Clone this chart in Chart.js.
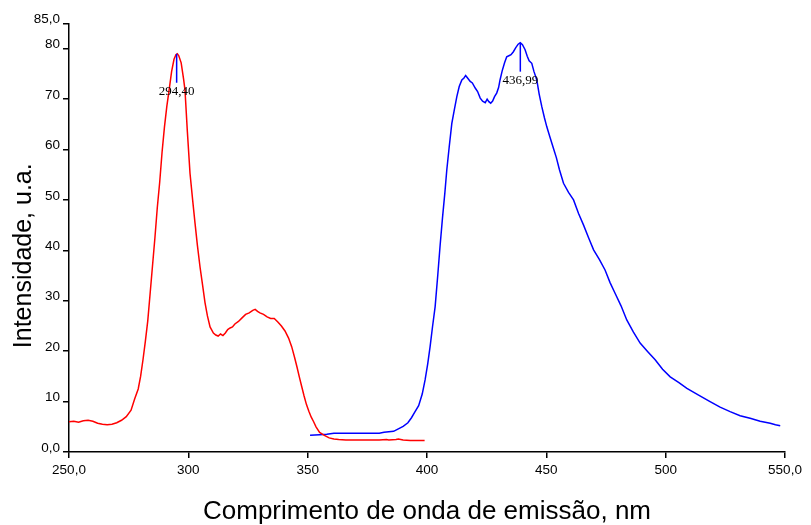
<!DOCTYPE html>
<html>
<head>
<meta charset="utf-8">
<script src="https://cdn.jsdelivr.net/npm/chart.js@4/dist/chart.umd.min.js"></script>
<style>
  body { margin: 0; background: #fff; }
  #wrap { width: 811px; height: 525px; }
</style>
</head>
<body>
<div id="wrap"><canvas id="grafico" width="811" height="525"></canvas></div>
<script>
// excitação (vermelho)
const exX = [250, 252, 254, 256, 258, 260, 262, 264, 266, 268, 270, 272, 274, 276, 277.5, 279, 280, 281, 282,
  283, 284, 285, 286, 287, 288, 289, 290, 291, 292, 293, 294, 294.8, 295.4, 296, 297, 298, 298.6, 299.6, 300.7,
  301.8, 302.8, 303.8, 304.9, 306, 307, 308, 309.1, 310.5, 311.5, 312.5, 313.5, 314.5, 315.5, 316.5, 317.5, 318.5, 319.5,
  321, 322.5, 324, 325.5, 327, 328, 329, 330, 331.5, 333, 334.5, 336, 337.5, 339, 340.5, 342, 343.3, 344.5, 345.5,
  346.5, 347.5, 348.5, 349.5, 350.5, 351.5, 352.5, 353.5, 355, 357, 359, 361, 363, 366, 370, 375, 380, 383, 384,
  387, 388, 390, 393, 396, 399];
const exY = [6.0, 6.1, 5.9, 6.2, 6.3, 6.1, 5.7, 5.5, 5.4, 5.5, 5.8, 6.3, 7.0, 8.3, 10.5, 12.5, 15, 18.3, 22,
  26, 31.5, 37, 42.5, 48.5, 53.5, 59.5, 64.5, 68.6, 72, 75.5, 77.9, 78.8, 79.0, 78.6, 77.2, 74, 71.8, 63.5, 55.3,
  50, 45.4, 41, 36.7, 33, 29.6, 27, 24.8, 23.6, 23.2, 23.0, 23.4, 23.1, 23.6, 24.3, 24.6, 24.8, 25.4,
  25.9, 26.6, 27.3, 27.6, 28.1, 28.3, 27.9, 27.6, 27.3, 26.8, 26.5, 26.5, 25.8, 25.0, 24.0, 22.6, 20.9, 18.8, 16.9,
  14.9, 13.0, 11.1, 9.4, 8.1, 6.9, 6.0, 5.0, 3.9, 3.3, 2.8, 2.6, 2.5, 2.4, 2.4, 2.4, 2.4, 2.5, 2.4,
  2.5, 2.6, 2.4, 2.3, 2.3, 2.3];

// emissão (azul)
const emX = [351, 355, 358, 361, 365, 370, 375, 380, 382, 384, 386, 388, 390, 392, 393.5, 395, 396.5, 398, 399.2,
  400.3, 401.3, 402.3, 403.4, 404.5, 405.5, 406.5, 407.5, 408.3, 409.3, 410.4, 411.5, 412.5, 413.5, 414.6, 415.5,
  416.2, 417, 418.1, 419, 420.2, 421.2, 422.3, 423.3, 424.4, 425.2, 425.9, 426.7, 427.5, 428.3, 429.2, 430, 430.6,
  431.5, 432.5, 433.4, 434.3, 435.2, 436.2, 437.2, 438.2, 439.1, 440, 441.1, 442, 442.8, 443.9, 444.8, 446, 447,
  448.1, 449.2, 450.2, 451.5, 453, 454.2, 455.5, 457.2, 459.3, 461.4, 463.5, 465.6, 467.7, 469.8, 472.2, 474.6,
  476.7, 478.8, 481.3, 483.7, 486.5, 489.3, 492.5, 495.6, 498.7, 501.9, 505.4, 508.9, 513.8, 518.6, 522.8, 527,
  531.2, 535.4, 539.6, 543.8, 546, 548];
const emY = [3.3, 3.4, 3.5, 3.7, 3.7, 3.7, 3.7, 3.7, 3.9, 4.0, 4.1, 4.6, 5.1, 5.8, 6.8, 8.0, 9.2, 11.5, 14.3,
  17.5, 20.9, 24.8, 28.8, 35, 41, 46.5, 51.5, 56, 60.5, 65.2, 68, 70.5, 72.5, 73.8, 74.2,
  74.7, 74.2, 73.5, 73.2, 72.2, 71.5, 70.2, 69.6, 69.3, 70.0, 69.5, 69.2, 69.6, 70.5, 71.2, 72.3, 73.8,
  75.6, 77.2, 78.4, 78.6, 78.8, 79.4, 80.2, 80.9, 81.2, 80.8, 79.8, 78.5, 77.6, 77.1, 75.5, 73.8, 71,
  68.5, 66.3, 64.5, 62.5, 60.2, 58.4, 56, 53.3, 51.5, 50, 47.3, 45, 42.5, 40.1, 38.2, 36.1,
  33.6, 31.5, 29, 26.2, 23.8, 21.6, 19.9, 18.3, 16.4, 14.9, 13.8, 12.6, 11.3, 10, 8.9, 8,
  7.2, 6.7, 6.1, 5.7, 5.4, 5.2];

const xTicks = [250, 300, 350, 400, 450, 500, 550];
const yTicks = [0, 10, 20, 30, 40, 50, 60, 70, 80, 85];

// marcadores de pico
const picoX = [295.1, 439.1];
const picoY = [79.0, 81.2];
const picoTexto = ["294,40", "436,99"];

function pontos(xs, ys) {
  return xs.map((x, i) => ({ x: x, y: ys[i] }));
}

function rotulo(v, lista) {
  if (v === lista[0] || v === lista[lista.length - 1]) return v.toFixed(1).replace(".", ",");
  return String(v);
}

const familia = "'Liberation Sans', Arial, sans-serif";

const marcadores = {
  id: "marcadores",
  afterDatasetsDraw(chart) {
    const ctx = chart.ctx;
    const sx = chart.scales.x, sy = chart.scales.y;
    ctx.save();
    picoX.forEach((px, i) => {
      const x = sx.getPixelForValue(px);
      const y = sy.getPixelForValue(picoY[i]);
      ctx.strokeStyle = "#0000ff";
      ctx.lineWidth = 1.5;
      ctx.beginPath();
      ctx.moveTo(x, y);
      ctx.lineTo(x, y + 29);
      ctx.stroke();
      ctx.fillStyle = "#000";
      ctx.font = "13px 'Liberation Serif', 'DejaVu Serif', serif";
      ctx.textAlign = "center";
      ctx.textBaseline = "middle";
      ctx.fillText(picoTexto[i], x, y + 38);
    });
    ctx.restore();
  },
  // título do eixo y, um pouco abaixo do centro como no original
  afterDraw(chart) {
    const ctx = chart.ctx;
    const a = chart.chartArea;
    ctx.save();
    ctx.translate(24, (a.top + a.bottom) / 2 + 18);
    ctx.rotate(-Math.PI / 2);
    ctx.fillStyle = "#000";
    ctx.font = "25px " + familia;
    ctx.textAlign = "center";
    ctx.textBaseline = "middle";
    ctx.fillText("Intensidade, u.a.", 0, 0);
    ctx.restore();
  }
};

const fonteTick = { family: familia, size: 13.5 };
const fonteTitulo = { family: familia, size: 26 };

new Chart(document.getElementById("grafico").getContext("2d"), {
  type: "line",
  data: {
    datasets: [
      { data: pontos(exX, exY), borderColor: "#ff0000", borderWidth: 1.5, pointRadius: 0, tension: 0, fill: false },
      { data: pontos(emX, emY), borderColor: "#0000ff", borderWidth: 1.5, pointRadius: 0, tension: 0, fill: false }
    ]
  },
  options: {
    responsive: false,
    animation: false,
    events: [],
    layout: { padding: { top: 23.5, right: 26, left: 0, bottom: 0 } },
    plugins: { legend: { display: false }, tooltip: { enabled: false } },
    scales: {
      x: {
        type: "linear",
        min: 250,
        max: 550,
        afterBuildTicks: s => { s.ticks = xTicks.map(v => ({ value: v })); },
        afterFit: s => { s.height = 73; },
        grid: { display: true, drawOnChartArea: false, drawTicks: true, tickLength: 6, color: "#000", lineWidth: 1.5 },
        border: { display: true, color: "#000", width: 1.5 },
        ticks: { color: "#000", font: fonteTick, padding: 4, maxRotation: 0, callback: v => rotulo(v, xTicks) },
        title: { display: true, text: "Comprimento de onda de emissão, nm", color: "#000", font: fonteTitulo, padding: { top: 0, bottom: -2 } }
      },
      y: {
        type: "linear",
        min: 0,
        max: 85,
        afterBuildTicks: s => { s.ticks = yTicks.map(v => ({ value: v })); },
        afterFit: s => { s.width = 69; },
        grid: { display: true, drawOnChartArea: false, drawTicks: true, tickLength: 6, color: "#000", lineWidth: 1.5 },
        border: { display: true, color: "#000", width: 1.5 },
        ticks: { color: "#000", font: fonteTick, padding: 3, labelOffset: -4, callback: v => rotulo(v, yTicks) }
      }
    }
  },
  plugins: [marcadores]
});
</script>
</body>
</html>
